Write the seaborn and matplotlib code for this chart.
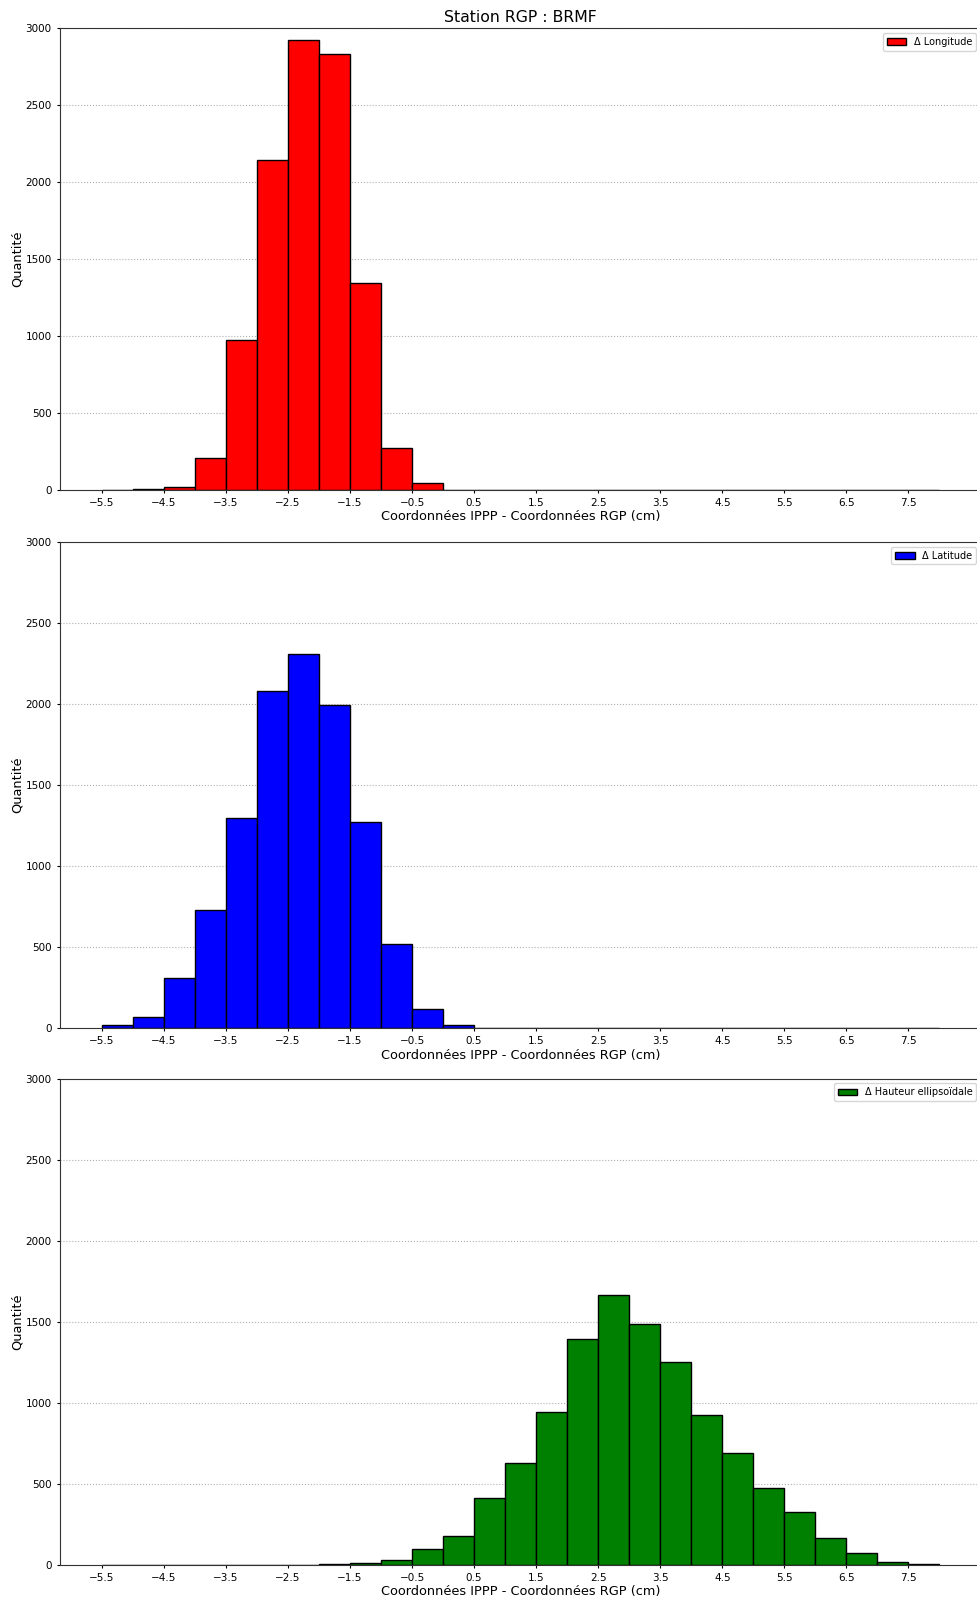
import numpy as np
import pandas as pd
import matplotlib
matplotlib.use("Agg")
import matplotlib.pyplot as plt
import seaborn as sns

# bin edges (cm), width 0.5
edges = [round(-5.5 + 0.5 * i, 1) for i in range(28)]
centers = [e + 0.25 for e in edges[:-1]]
xticks = np.arange(-5.5, 7.51, 1.0)

# counts per bin (27 bins from -5.5 to 8.0)
longitude = [0, 5, 15, 204, 975, 2142, 2922, 2833, 1344, 273, 42, 0, 0, 0,
             0, 0, 0, 0, 0, 0, 0, 0, 0, 0, 0, 0, 0]
latitude = [20, 66, 308, 729, 1297, 2077, 2306, 1993, 1269, 518, 119, 20, 0, 0,
            0, 0, 0, 0, 0, 0, 0, 0, 0, 0, 0, 0, 0]
hauteur = [0, 0, 0, 0, 0, 0, 0, 4, 10, 29, 97, 180, 410, 630, 940, 1393,
           1667, 1487, 1250, 921, 691, 471, 324, 163, 73, 14, 6]

series = [
    ("Δ Longitude", longitude, "red"),
    ("Δ Latitude", latitude, "blue"),
    ("Δ Hauteur ellipsoïdale", hauteur, "green"),
]

fig, axes = plt.subplots(3, 1, figsize=(9.77, 16.02), dpi=100)
positions = [
    [0.0614, 0.6943, 0.943, 0.2880],
    [0.0614, 0.3582, 0.943, 0.3036],
    [0.0614, 0.0233, 0.943, 0.3034],
]

for ax, pos, (label, counts, color) in zip(axes, positions, series):
    ax.set_position(pos)
    df = pd.DataFrame({"x": centers, "n": counts})
    sns.histplot(data=df, x="x", weights="n", bins=edges, color=color,
                 edgecolor="black", linewidth=1, alpha=1, label=label, ax=ax)
    ax.set_ylim(0, 3000)
    ax.set_yticks(range(0, 3001, 500))
    ax.set_xticks(xticks)
    ax.tick_params(labelsize=7.5, length=2.5)
    ax.grid(axis="y", linestyle=":", color="#b0b0b0", linewidth=0.8)
    ax.set_axisbelow(True)
    for s in ax.spines.values():
        s.set_color("#333333")
    ax.set_xlabel("Coordonnées IPPP - Coordonnées RGP (cm)", fontsize=9.3, labelpad=1.5)
    ax.set_ylabel("Quantité", fontsize=9.3, labelpad=1.5)
    ax.legend(loc="upper right", fontsize=7)

axes[0].set_title("Station RGP : BRMF", fontsize=11.3, pad=4.5)

fig.savefig("out.png", dpi=100)
